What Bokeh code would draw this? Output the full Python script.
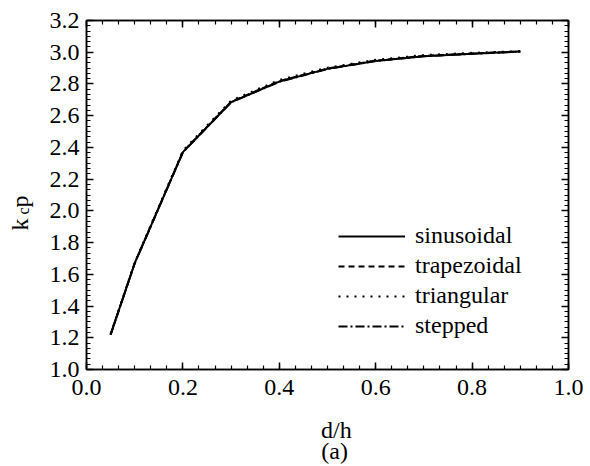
from bokeh.plotting import figure
from bokeh.layouts import row, column
from bokeh.models import (Range1d, LinearAxis, SingleIntervalTicker, PrintfTickFormatter,
                          CustomJSTickFormatter, Legend, LegendItem, Label)
from bokeh.embed import file_html
from bokeh.resources import INLINE
import math

# d/h ratio and k_c p values for each profile shape
d_h = [0.05, 0.1, 0.2, 0.3, 0.4, 0.5, 0.6, 0.7, 0.8, 0.9]
sinusoidal = [1.22, 1.67, 2.37, 2.685, 2.815, 2.895, 2.945, 2.975, 2.99, 3.005]
trapezoidal = [1.22, 1.67, 2.372, 2.688, 2.818, 2.897, 2.947, 2.977, 2.992, 3.005]
triangular = [1.225, 1.675, 2.38, 2.695, 2.825, 2.903, 2.952, 2.982, 2.996, 3.007]
stepped = [1.22, 1.668, 2.37, 2.684, 2.814, 2.894, 2.944, 2.975, 2.99, 3.004]

series_names = ["sinusoidal", "trapezoidal", "triangular", "stepped"]
series_values = [sinusoidal, trapezoidal, triangular, stepped]
series_dash = ["solid", "6 4", "2 6", "9 3 2 3"]

FONT = "Liberation Serif"

# ---- main chart -------------------------------------------------------------
p = figure(width=546, height=410, output_backend="svg", toolbar_location=None,
           title=None,
           x_range=Range1d(0.0, 1.0), y_range=Range1d(1.0, 3.2),
           min_border_left=42, min_border_right=22, min_border_top=20, min_border_bottom=41,
           x_axis_location=None, y_axis_location=None)
p.grid.visible = False
p.outline_line_color = "black"
p.outline_line_width = 1.5
p.background_fill_color = "white"
p.border_fill_color = "white"


def make_axis(kind, show_labels):
    ax = LinearAxis()
    ax.ticker = SingleIntervalTicker(interval=0.2, num_minor_ticks=6)
    ax.axis_line_color = "black"
    ax.axis_line_width = 1.5
    ax.major_tick_in = 7
    ax.major_tick_out = 0
    ax.minor_tick_in = 4
    ax.minor_tick_out = 0
    ax.major_tick_line_width = 1.5
    ax.minor_tick_line_width = 1.2
    ax.major_tick_line_color = "black"
    ax.minor_tick_line_color = "black"
    ax.major_label_text_font = FONT
    ax.major_label_text_color = "black"
    ax.major_label_text_font_size = "24px"
    if show_labels:
        ax.formatter = PrintfTickFormatter(format="%.1f")
        ax.major_label_standoff = 7 if kind in ("left", "right") else 10
    else:
        ax.formatter = CustomJSTickFormatter(code="return ''")
        ax.major_label_standoff = 0
    return ax


p.add_layout(make_axis("below", True), "below")
p.add_layout(make_axis("left", True), "left")
p.add_layout(make_axis("above", False), "above")
p.add_layout(make_axis("right", False), "right")

items = []
for name, vals, dash in zip(series_names, series_values, series_dash):
    r = p.line(d_h, vals, line_color="black", line_width=2, line_dash=dash)
    items.append(LegendItem(label=name, renderers=[r]))

legend = Legend(items=items, location=(252, 30), border_line_color=None,
                background_fill_alpha=0, padding=0, margin=0, spacing=3,
                glyph_width=67, glyph_height=20, label_height=20, label_standoff=10,
                label_text_font=FONT, label_text_font_size="24px",
                label_text_color="black")
p.add_layout(legend)


def strip(width, height):
    """A blank canvas whose frame fills it, used for the axis titles."""
    s = figure(width=width, height=height, output_backend="svg", toolbar_location=None,
               title=None,
               x_range=Range1d(0, width), y_range=Range1d(0, height),
               min_border=0, x_axis_location=None, y_axis_location=None)
    s.grid.visible = False
    s.outline_line_color = None
    s.background_fill_color = "white"
    s.border_fill_color = "white"
    return s


def text_label(x, y, text, size="24px", angle=0.0, align="center"):
    return Label(x=x, y=y, text=text, angle=angle, text_font=FONT, text_font_size=size,
                 text_color="black", text_align=align, text_baseline="alphabetic")


# y title k_c p, drawn piece by piece for the subscript
left = strip(44, 466)
left.add_layout(text_label(19, 236, "k", angle=math.pi / 2, align="left"))
left.add_layout(text_label(23, 252, "c", size="16px", angle=math.pi / 2, align="left"))
left.add_layout(text_label(19, 259, "p", angle=math.pi / 2, align="left"))

# x title with panel tag underneath
bottom = strip(546, 56)
bottom.add_layout(text_label(283, 37, "d/h"))
bottom.add_layout(text_label(281, 16, "(a)"))

layout = row(left, column(p, bottom, spacing=0), spacing=0)

open("out.html", "w").write(file_html(layout, INLINE))
